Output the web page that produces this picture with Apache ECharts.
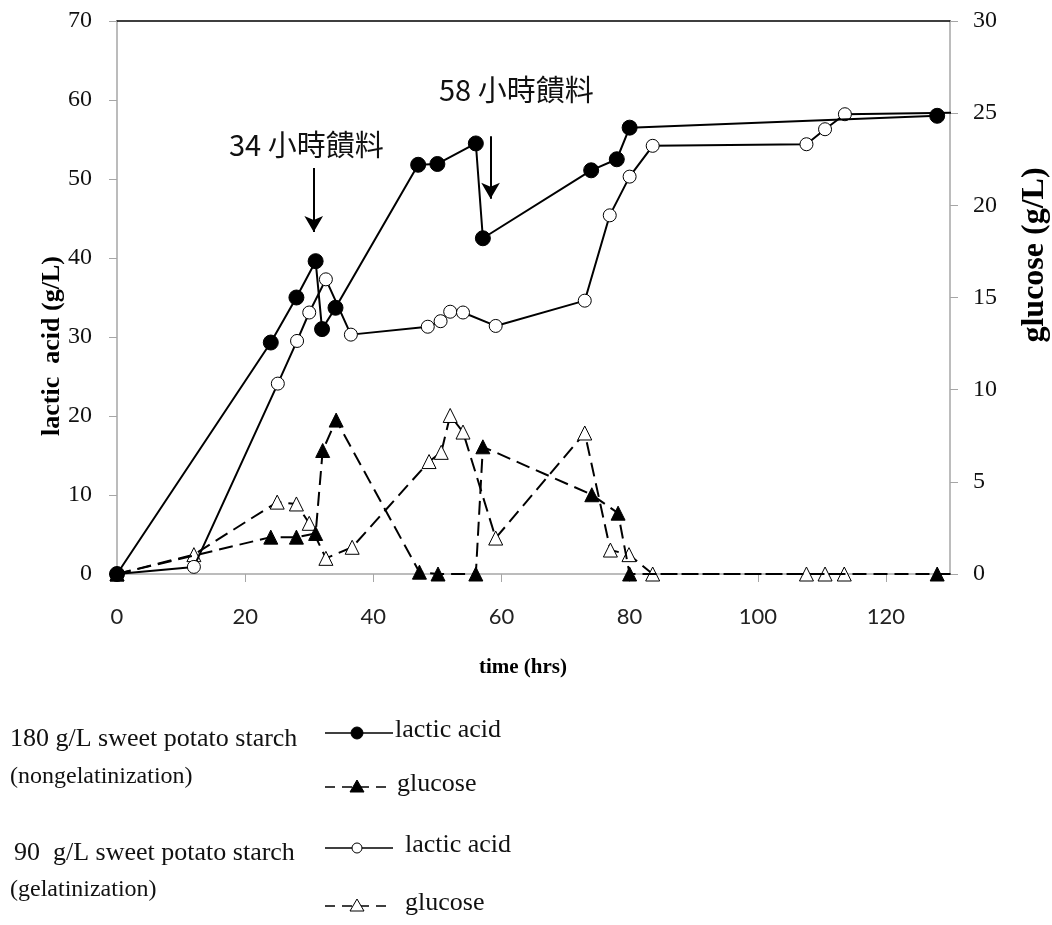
<!DOCTYPE html>
<html>
<head>
<meta charset="utf-8">
<script src="https://cdn.jsdelivr.net/npm/echarts@6/dist/echarts.min.js"></script>
<style>
  html, body { margin: 0; padding: 0; background: #fff; }
  #chart { width: 1052px; height: 925px; }
</style>
</head>
<body>
<div id="chart"></div>
<script>
// time (hrs), value pairs
const lacticNonGel = [
  [0, 0], [24, 29.3], [28, 35.0], [31, 39.6], [32, 31.0], [34.1, 33.7],
  [47, 51.8], [50, 51.9], [56, 54.5], [57.1, 42.5], [74, 51.1], [78, 52.5],
  [80, 56.5], [128, 58.0]
];
const glucoseNonGel = [
  [0, 0], [24, 2.0], [28, 2.0], [31, 2.2], [32.1, 6.7], [34.2, 8.35],
  [47.2, 0.1], [50.1, 0], [56, 0], [57.1, 6.9], [74.1, 4.3], [78.2, 3.3],
  [80, 0], [128, 0], [132, 0]
];
const lacticGel = [
  [0, 0], [12, 0.9], [25.1, 24.1], [28.1, 29.5], [30, 33.1], [32.6, 37.3],
  [36.5, 30.3], [48.5, 31.3], [50.5, 32.0], [52, 33.2], [54, 33.1],
  [59.1, 31.4], [73, 34.6], [76.9, 45.4], [80, 50.3], [83.6, 54.2],
  [107.6, 54.4], [110.5, 56.3], [113.6, 58.2], [132, 58.4]
];
const glucoseGel = [
  [0, 0], [12, 1.05], [25, 3.9], [28, 3.8], [30, 2.75], [32.6, 0.85],
  [36.7, 1.45], [48.7, 6.1], [50.6, 6.6], [52, 8.6], [54, 7.7], [59.1, 1.95],
  [73, 7.65], [77, 1.3], [79.9, 1.05], [83.6, 0], [107.6, 0], [110.5, 0],
  [113.5, 0]
];
// feeding arrows: [time, from, to] on lactic acid scale
const feedArrows = [[30.7, 51.4, 43.3], [58.3, 55.4, 47.5]];

const chart = echarts.init(document.getElementById('chart'));

const serif = '"Liberation Serif", "Times New Roman", serif';
const gray = '#a6a6a6';
const dash = [14, 7];

const filled = { color: '#000', borderColor: '#000', borderWidth: 1 };
const hollow = { color: '#fff', borderColor: '#000', borderWidth: 1 };

function legendRow(y, dashed, symbol, fillWhite, label, textX) {
  const items = [
    {
      type: 'line', shape: { x1: 325, y1: y, x2: 393, y2: y },
      style: { stroke: '#000', lineWidth: 1.5, lineDash: dashed ? [10, 7] : null }
    }
  ];
  if (symbol === 'circle') {
    items.push({
      type: 'circle', shape: { cx: 357, cy: y, r: fillWhite ? 5 : 6 },
      style: { fill: fillWhite ? '#fff' : '#000', stroke: '#000', lineWidth: 1 }, z: 2
    });
  } else {
    items.push({
      type: 'polygon', shape: { points: [[357, y - 7], [364, y + 5], [350, y + 5]] },
      style: { fill: fillWhite ? '#fff' : '#000', stroke: '#000', lineWidth: 1 }, z: 2
    });
  }
  items.push({
    type: 'text', left: textX, top: y - 16,
    style: { text: label, font: '26px ' + serif, fill: '#111' }
  });
  return items;
}

const option = {
  animation: false,
  backgroundColor: '#fff',
  grid: { left: 117, right: 102, top: 21, bottom: 351 },
  xAxis: [
    {
      type: 'value', min: 0, max: 130, interval: 20,
      axisLine: { show: true, onZero: false, lineStyle: { color: gray, width: 1.5 } },
      axisTick: { show: true, length: 8, lineStyle: { color: gray } },
      axisLabel: {
        showMaxLabel: false, margin: 32, fontSize: 22, color: '#222',
        fontFamily: 'Lato, "Open Sans", sans-serif'
      },
      splitLine: { show: false }
    },
    {
      type: 'value', min: 0, max: 130, position: 'top',
      axisLine: { show: true, onZero: false, lineStyle: { color: '#000', width: 1.5 } },
      axisTick: { show: false }, axisLabel: { show: false }, splitLine: { show: false }
    }
  ],
  yAxis: [
    {
      type: 'value', min: 0, max: 70, interval: 10,
      axisLine: { show: true, onZero: false, lineStyle: { color: gray, width: 1.5 } },
      axisTick: { show: true, length: 8, lineStyle: { color: gray } },
      axisLabel: { margin: 25, fontSize: 24, color: '#111', fontFamily: serif },
      splitLine: { show: false }
    },
    {
      type: 'value', min: 0, max: 30, interval: 5, position: 'right',
      axisLine: { show: true, onZero: false, lineStyle: { color: gray, width: 1.5 } },
      axisTick: { show: true, length: 8, lineStyle: { color: gray } },
      axisLabel: { margin: 23, fontSize: 24, color: '#111', fontFamily: serif },
      splitLine: { show: false }
    }
  ],
  series: [
    {
      name: 'glucose (gelatinization)', type: 'line', yAxisIndex: 1,
      data: glucoseGel, symbol: 'triangle', symbolSize: 14,
      lineStyle: { color: '#000', width: 2, type: dash },
      itemStyle: hollow, z: 2
    },
    {
      name: 'glucose (nongelatinization)', type: 'line', yAxisIndex: 1,
      data: glucoseNonGel, symbol: 'triangle', symbolSize: 14,
      lineStyle: { color: '#000', width: 2, type: dash },
      itemStyle: filled, z: 3
    },
    {
      name: 'lactic acid (gelatinization)', type: 'line',
      data: lacticGel, symbol: 'circle', symbolSize: 13,
      lineStyle: { color: '#000', width: 2 },
      itemStyle: hollow, z: 4
    },
    {
      name: 'lactic acid (nongelatinization)', type: 'line',
      data: lacticNonGel, symbol: 'circle', symbolSize: 15,
      lineStyle: { color: '#000', width: 2 },
      itemStyle: filled, z: 5,
      markLine: {
        silent: true, symbol: ['none', 'arrow'], symbolSize: [14, 16],
        label: { show: false },
        lineStyle: { color: '#000', width: 2, type: 'solid' },
        data: feedArrows.map(a => [{ coord: [a[0], a[1]] }, { coord: [a[0], a[2]] }])
      }
    }
  ],
  graphic: [
    {
      type: 'text', left: 229, top: 130,
      style: { text: '34 小時饋料', font: '29px "Noto Sans CJK TC", ' + serif, fill: '#111' }
    },
    {
      type: 'text', left: 439, top: 75,
      style: { text: '58 小時饋料', font: '29px "Noto Sans CJK TC", ' + serif, fill: '#111' }
    },
    {
      type: 'text', x: 52, y: 346, rotation: Math.PI / 2,
      style: {
        text: 'lactic  acid (g/L)', font: 'bold 26px ' + serif, fill: '#000',
        align: 'center', verticalAlign: 'middle'
      }
    },
    {
      type: 'text', x: 1035, y: 255, rotation: Math.PI / 2,
      style: {
        text: 'glucose (g/L)', font: 'bold 32px ' + serif, fill: '#000',
        align: 'center', verticalAlign: 'middle'
      }
    },
    {
      type: 'text', x: 523, y: 668,
      style: {
        text: 'time (hrs)', font: 'bold 21px ' + serif, fill: '#000',
        align: 'center', verticalAlign: 'middle'
      }
    },
    {
      type: 'text', left: 10, top: 726,
      style: { text: '180 g/L sweet potato starch', font: '26px ' + serif, fill: '#111' }
    },
    {
      type: 'text', left: 10, top: 765,
      style: { text: '(nongelatinization)', font: '24px ' + serif, fill: '#111' }
    },
    {
      type: 'text', left: 14, top: 840,
      style: { text: '90  g/L sweet potato starch', font: '26px ' + serif, fill: '#111' }
    },
    {
      type: 'text', left: 10, top: 878,
      style: { text: '(gelatinization)', font: '24px ' + serif, fill: '#111' }
    },
    ...legendRow(733, false, 'circle', false, 'lactic acid', 395),
    ...legendRow(787, true, 'triangle', false, 'glucose', 397),
    ...legendRow(848, false, 'circle', true, 'lactic acid', 405),
    ...legendRow(906, true, 'triangle', true, 'glucose', 405)
  ]
};

chart.setOption(option);
window.addEventListener('resize', () => chart.resize());
</script>
</body>
</html>
